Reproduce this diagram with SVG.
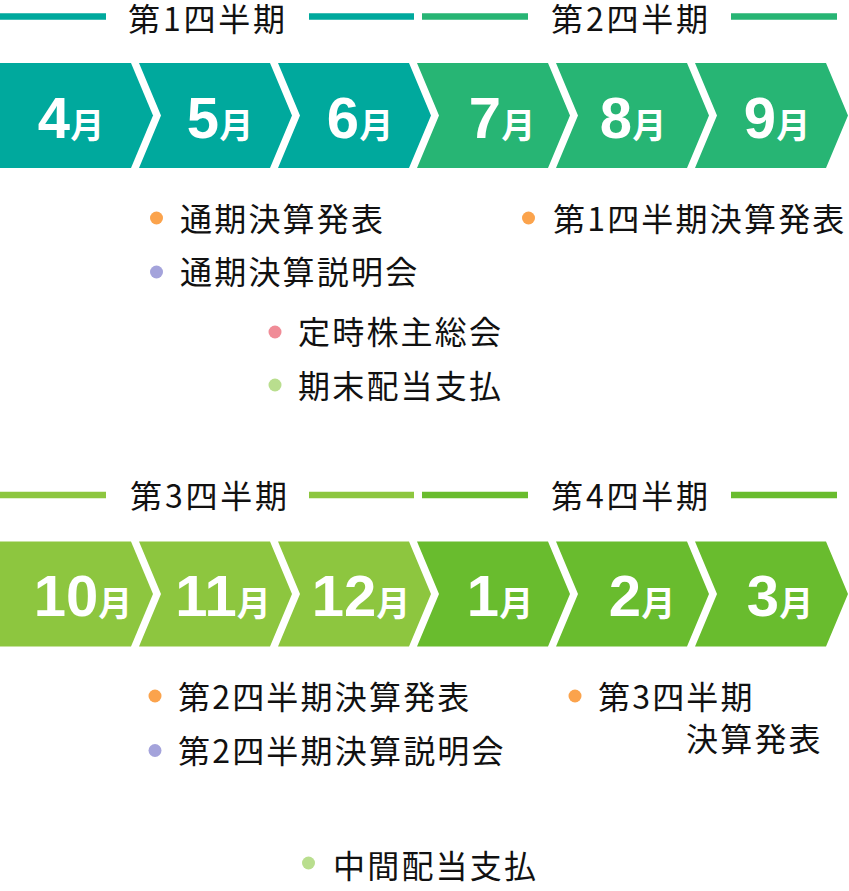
<svg xmlns="http://www.w3.org/2000/svg" width="849" height="891" viewBox="0 0 849 891">
<style>
.hd{font-family:"Noto Sans CJK JP","Noto Sans",sans-serif;font-size:32px;fill:#111;text-anchor:middle;letter-spacing:2.8px}
.lb{font-family:"Noto Sans CJK JP","Noto Sans",sans-serif;font-size:32px;fill:#111;letter-spacing:2.2px}
.mo{fill:#fff;text-anchor:middle;font-weight:bold}
.dg{font-family:"Liberation Sans",Arial,sans-serif;font-size:58px}
.mk{font-family:"Noto Sans CJK JP",sans-serif;font-size:34px}
.q1{fill:#00a99d}.q2{fill:#27b574}.q3{fill:#8dc63f}.q4{fill:#69bc2e}
.l1{stroke:#00a99d}.l2{stroke:#27b574}.l3{stroke:#8dc63f}.l4{stroke:#69bc2e}
line{stroke-width:6.5}
.or{fill:#fba34c}.pu{fill:#a4a3db}.pk{fill:#f08c97}.gr{fill:#b9de8e}
</style>
<g id="headers">
<g id="h-q1"><line class="l1" x1="0" y1="16.5" x2="106" y2="16.5"/><line class="l1" x1="309" y1="16.5" x2="414" y2="16.5"/><text class="hd" x="208" y="31">第1四半期</text></g>
<g id="h-q2"><line class="l2" x1="422" y1="16.5" x2="528" y2="16.5"/><line class="l2" x1="731" y1="16.5" x2="837" y2="16.5"/><text class="hd" x="631" y="31">第2四半期</text></g>
<g id="h-q3"><line class="l3" x1="0" y1="495" x2="106" y2="495"/><line class="l3" x1="309" y1="495" x2="414" y2="495"/><text class="hd" x="210" y="507.5">第3四半期</text></g>
<g id="h-q4"><line class="l4" x1="422" y1="495" x2="528" y2="495"/><line class="l4" x1="731" y1="495" x2="837" y2="495"/><text class="hd" x="631" y="507.5">第4四半期</text></g>
</g>
<g id="m4"><polygon class="q1" points="0,63 131,63 153,115.5 131,168 0,168"/><text class="mo" x="71" y="137.5"><tspan class="dg">4</tspan><tspan class="mk">月</tspan></text></g>
<g id="m5"><polygon class="q1" points="139,63 270,63 292,115.5 270,168 139,168 161,115.5"/><text class="mo" x="220" y="137.5"><tspan class="dg">5</tspan><tspan class="mk">月</tspan></text></g>
<g id="m6"><polygon class="q1" points="278,63 409,63 431,115.5 409,168 278,168 300,115.5"/><text class="mo" x="360" y="137.5"><tspan class="dg">6</tspan><tspan class="mk">月</tspan></text></g>
<g id="m7"><polygon class="q2" points="417,63 548,63 570,115.5 548,168 417,168 439,115.5"/><text class="mo" x="502" y="137.5"><tspan class="dg">7</tspan><tspan class="mk">月</tspan></text></g>
<g id="m8"><polygon class="q2" points="556,63 687,63 709,115.5 687,168 556,168 578,115.5"/><text class="mo" x="633" y="137.5"><tspan class="dg">8</tspan><tspan class="mk">月</tspan></text></g>
<g id="m9"><polygon class="q2" points="695,63 826,63 848,115.5 826,168 695,168 717,115.5"/><text class="mo" x="777" y="137.5"><tspan class="dg">9</tspan><tspan class="mk">月</tspan></text></g>
<g id="m10"><polygon class="q3" points="0,541.5 131,541.5 153,594 131,646.5 0,646.5"/><text class="mo" x="83" y="616"><tspan class="dg">10</tspan><tspan class="mk">月</tspan></text></g>
<g id="m11"><polygon class="q3" points="139,541.5 270,541.5 292,594 270,646.5 139,646.5 161,594"/><text class="mo" x="223" y="616"><tspan class="dg">11</tspan><tspan class="mk">月</tspan></text></g>
<g id="m12"><polygon class="q3" points="278,541.5 409,541.5 431,594 409,646.5 278,646.5 300,594"/><text class="mo" x="361" y="616"><tspan class="dg">12</tspan><tspan class="mk">月</tspan></text></g>
<g id="m1"><polygon class="q4" points="417,541.5 548,541.5 570,594 548,646.5 417,646.5 439,594"/><text class="mo" x="500" y="616"><tspan class="dg">1</tspan><tspan class="mk">月</tspan></text></g>
<g id="m2"><polygon class="q4" points="556,541.5 687,541.5 709,594 687,646.5 556,646.5 578,594"/><text class="mo" x="642" y="616"><tspan class="dg">2</tspan><tspan class="mk">月</tspan></text></g>
<g id="m3"><polygon class="q4" points="695,541.5 826,541.5 848,594 826,646.5 695,646.5 717,594"/><text class="mo" x="780" y="616"><tspan class="dg">3</tspan><tspan class="mk">月</tspan></text></g>
<g id="events">
<g id="e1"><circle class="or" cx="156.5" cy="218" r="6.5"/><text class="lb" x="180" y="230.5">通期決算発表</text></g>
<g id="e2"><circle class="pu" cx="156.5" cy="272" r="6.5"/><text class="lb" x="180" y="284">通期決算説明会</text></g>
<g id="e3"><circle class="pk" cx="275" cy="332" r="6.5"/><text class="lb" x="298" y="344">定時株主総会</text></g>
<g id="e4"><circle class="gr" cx="275" cy="385" r="6.5"/><text class="lb" x="298" y="397.5">期末配当支払</text></g>
<g id="e5"><circle class="or" cx="528.5" cy="218" r="6.5"/><text class="lb" x="553" y="230.5">第1四半期決算発表</text></g>
<g id="e6"><circle class="or" cx="155" cy="696" r="6.5"/><text class="lb" x="178" y="709">第2四半期決算発表</text></g>
<g id="e7"><circle class="pu" cx="155" cy="750.5" r="6.5"/><text class="lb" x="178" y="762.5">第2四半期決算説明会</text></g>
<g id="e8"><circle class="gr" cx="308.5" cy="863" r="6.5"/><text class="lb" x="333" y="877.5">中間配当支払</text></g>
<g id="e9"><circle class="or" cx="575" cy="696" r="6.5"/><text class="lb" x="598" y="709">第3四半期</text><text class="lb" x="686" y="750.5">決算発表</text></g>
</g>
</svg>
